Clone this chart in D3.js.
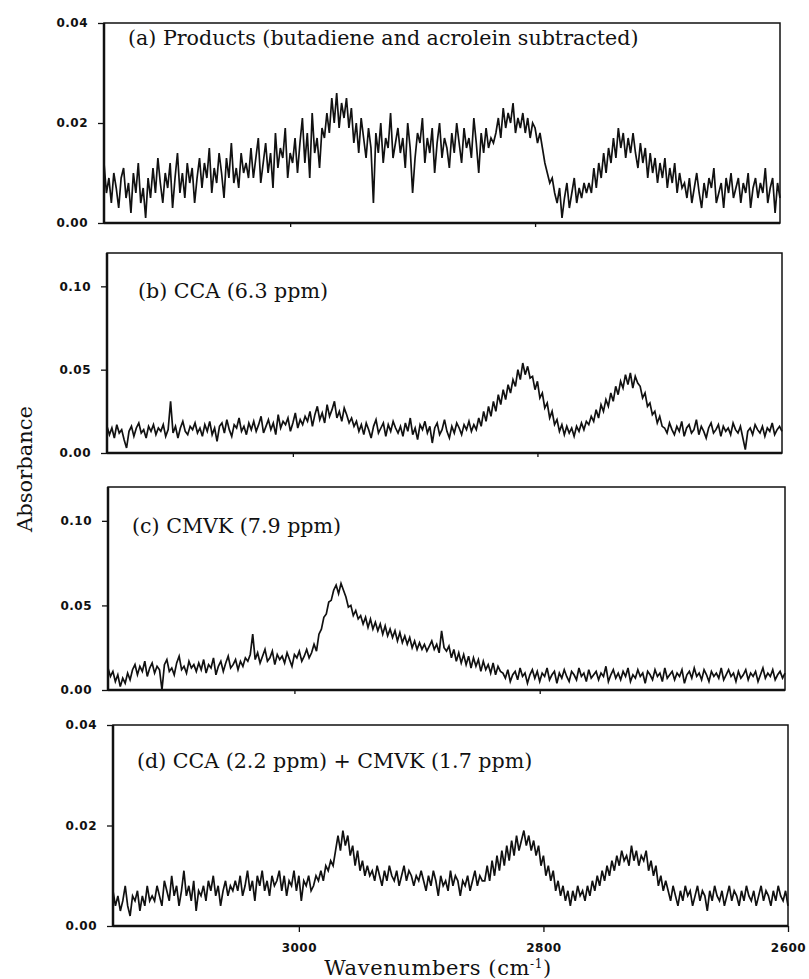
<!DOCTYPE html>
<html>
<head>
<meta charset="utf-8">
<script src="https://cdn.jsdelivr.net/npm/d3@7"></script>
<style>
  body { margin: 0; background: #fff; }
  svg { display: block; }
</style>
</head>
<body>
<svg id="spectra" width="809" height="979"></svg>
<script>
// wavenumber grid, cm-1 (2 cm-1 steps, high to low)
const wavenumbers = d3.range(3152, 2599, -2);

// absorbance values in units of 0.001
const productsSpec = [
  12, 6, 9, 4, 10, 7, 3, 9, 11, 5, 8, 2, 10, 6, 12, 4, 7, 1, 9, 5,
  11, 6, 13, 8, 4, 10, 7, 12, 3, 9, 14, 6, 10, 5, 12, 8, 11, 4, 9, 13,
  7, 12, 9, 15, 6, 11, 8, 14, 10, 5, 13, 9, 16, 8, 11, 7, 14, 10, 12, 9,
  15, 9, 13, 17, 8, 12, 16, 10, 14, 7, 18, 11, 15, 13, 19, 9, 14, 12, 17, 10,
  16, 21, 12, 18, 9, 22, 14, 17, 11, 19,
  17, 22, 18, 25, 20, 26, 19, 24, 21, 25,
  19, 23, 16, 20, 14, 21, 17, 13, 19, 15,
  4, 18, 14, 20, 12, 17, 15, 22, 13, 16,
  19, 14, 17, 11, 20, 15, 6, 13, 18, 16, 21, 12, 17, 14, 19, 10, 16, 20, 13, 17,
  15, 11, 18, 14, 20, 16, 12, 19, 15, 17, 13, 21, 16, 10, 18, 14, 19, 15, 17, 16,
  18, 21, 17, 23, 19, 22, 20, 24, 18, 21, 19,
  22, 18, 21, 17, 20, 19, 16, 18,
  15, 12, 10, 8, 9,
  6, 4, 7, 1, 5, 8, 3, 6, 9, 4, 7, 5, 8, 6,
  8, 6, 11, 7, 12, 9, 14, 10, 15, 12,
  17, 13, 19, 15, 18, 13, 17, 14, 18,
  14, 11, 16, 12, 15, 9, 14, 10, 13, 8, 12, 9, 13, 7, 11, 8, 12, 6, 10, 7,
  8, 5, 9, 4, 7, 10, 6, 3, 8, 5, 9, 7, 11, 4, 6, 8, 3, 9, 6, 10,
  5, 7, 9, 4, 8, 6, 10, 3, 7, 9, 5, 8, 6, 11, 4, 7, 9, 2, 8, 5
];

const ccaSpec = [
  16, 11, 15, 9, 17, 12, 14, 8, 3, 13, 16, 10, 15, 18, 12, 14, 9, 16, 13, 17,
  11, 15, 13, 17, 10, 14, 31, 12, 16, 9, 15, 19, 13, 11, 16, 14, 18, 12, 15, 10,
  17, 13, 19, 11, 15, 7, 16, 18, 12, 20, 14, 10, 17, 15, 21, 13, 16, 11, 18, 14,
  19, 13, 17, 22, 12, 16, 20, 14, 18, 11, 23, 15, 19, 17, 21, 13, 18, 24, 15, 20,
  17, 22, 19, 25, 16, 23, 28, 20, 24, 18, 29, 22, 26, 31, 21, 25, 19, 27, 23, 18,
  21, 16, 19, 13, 17, 11, 18, 14, 9, 16, 20, 12, 15, 18, 10, 17, 13, 19, 15, 12,
  16, 10, 18, 13, 21, 11, 15, 8, 17, 14, 19, 12, 16, 6, 15, 18, 11, 14, 20, 13,
  9, 16, 12, 18, 15, 11, 17, 14, 19, 13,
  17, 14, 21, 16, 25, 19, 28, 22, 31, 25, 35, 29, 38, 32, 41, 36, 44, 40,
  50, 44, 54, 47, 52, 45,
  46, 38, 43, 33, 36, 27, 30, 21, 25, 17, 20,
  13, 17, 11, 16, 12, 15, 10, 16, 13, 18, 14, 19,
  17, 22, 19, 26, 21, 29, 25, 32, 28, 36, 31, 40, 35, 43, 39,
  47, 41, 48, 39, 46, 42,
  40, 33, 36, 28, 30, 23, 25, 18, 22, 16,
  15, 12, 18, 14, 11, 16, 13, 19, 10, 15, 17, 12, 14, 20, 11, 16, 13, 9, 15, 18,
  12, 14, 17, 10, 16, 13, 15, 11, 18, 14, 12, 16, 9, 2, 13, 15, 11, 17, 14, 12,
  16, 10, 15, 13, 18, 11, 14, 16, 13
];

const cmvkSpec = [
  13, 8, 11, 5, 9, 2, 7, 4, 10, 6,
  12, 15, 9, 14, 11, 17, 8, 13, 16, 10, 14, 12, 0, 15, 18, 11, 13, 9, 16, 20, 12, 14, 10, 17, 13, 15, 11,
  16, 12, 18, 10, 15, 13, 19, 9, 14, 17, 11, 16, 20, 13, 15, 18, 12, 17, 14, 19,
  17, 21, 33, 18, 22, 16, 20, 24, 17, 19, 23, 15, 21, 18,
  20, 16, 22, 18, 14, 21, 19, 23, 17, 20, 24, 19,
  22, 27, 23, 33, 36, 43, 45, 52, 53,
  59, 62, 57, 63, 59,
  55, 49, 50, 44, 47, 42,
  44, 39, 43, 37, 42, 36, 40, 35, 39, 33, 38, 32, 36, 31, 35, 29, 34, 28, 32, 27, 31, 25, 29, 24,
  28, 24, 27, 23, 26, 29, 24, 27, 22, 35, 25, 23,
  26, 19, 24, 17, 22, 16, 21, 15, 20, 13, 19, 14, 18, 11, 17, 12, 15, 10, 16, 9, 14, 11,
  10, 7, 12, 5, 9, 11, 6, 13, 8, 10, 4, 9, 12, 7, 11, 5, 10, 8, 13, 6,
  9, 11, 4, 10, 7, 12, 8, 5, 11, 9, 6, 13, 8, 10, 5, 12, 7, 9, 11, 6,
  10, 8, 14, 5, 9, 12, 7, 10, 6, 11, 8, 13, 5, 9, 7, 12, 8, 10, 4, 11,
  9, 6, 12, 8, 10, 5, 13, 7, 9, 11, 6, 10, 8, 12, 4, 9, 11, 7, 13, 8,
  10, 6, 12, 9, 5, 11, 8, 10, 7, 13, 6, 9, 12, 8, 10, 5, 11, 7, 9, 12,
  6, 10, 8, 11, 5, 9, 13, 7, 10, 8, 12, 6, 9, 11, 7, 10
];

const mixSpec = [
  7, 4, 6, 3, 5, 8, 4, 2, 6, 5, 7, 3, 6, 4, 8, 5, 6,
  5, 8, 6, 4, 9, 7, 5, 10, 6, 8, 4, 7, 11, 6, 8, 5, 9, 3, 7, 6,
  8, 5, 9, 7, 10, 6, 8, 4, 7, 9, 6, 8, 7,
  9, 7, 10, 6, 8, 11, 7, 9, 5, 10, 8, 11, 7, 9, 6, 10, 8, 9, 11, 7,
  10, 6, 9, 8, 11, 7, 10, 5, 9, 8, 10, 7,
  8, 10, 9, 11, 9, 12, 11, 13, 12,
  15, 18, 15, 19, 16, 18,
  14, 16, 12, 15, 11, 13, 10,
  12, 10, 11, 9, 12, 10, 8, 11, 9, 12, 10, 9, 11, 8, 10, 12, 9, 11, 10, 8, 10, 9, 11,
  9, 7, 10, 8, 11, 9, 6, 10, 8, 9, 7, 11, 8, 10, 9, 6, 9, 8, 10, 7, 9, 11, 8, 10, 9,
  9, 12, 9, 13, 10, 14, 11, 15, 12, 16, 13, 17, 14, 18, 15, 17,
  19, 16, 18, 15,
  17, 14, 16, 12, 14, 10, 12, 9, 11, 7, 9,
  6, 8, 5, 7, 4, 7, 5, 8, 6, 7, 5, 8, 6, 9,
  7, 10, 8, 11, 9, 12, 10, 13, 11, 14,
  12, 15, 13, 14, 12, 16, 13, 15, 12, 14, 13, 15,
  11, 13, 10, 12, 8, 10, 7, 9,
  7, 5, 8, 6, 4, 7, 5, 8, 6, 7, 4, 6, 8, 5, 7, 6, 3, 7, 5, 8,
  6, 5, 7, 4, 6, 8, 5, 7, 6, 4, 7, 5, 8, 6, 5, 7, 4, 6, 8, 5,
  7, 6, 4, 7, 5, 8, 6, 5, 7, 4
];

const panelLabels = [
  "(a) Products (butadiene and acrolein subtracted)",
  "(b) CCA (6.3 ppm)",
  "(c) CMVK (7.9 ppm)",
  "(d) CCA (2.2 ppm) + CMVK (1.7 ppm)"
];
const yMaxes = [40, 120, 120, 40];
const yTickSets = [[0, 20, 40], [0, 50, 100], [0, 50, 100], [0, 20, 40]];
const xTicks = [3000, 2800, 2600];
const xDomain = [3152, 2600];

(() => {
  const svg = d3.select("#spectra");
  const series = [productsSpec, ccaSpec, cmvkSpec, mixSpec];

  // panel boxes (the scan is slightly skewed, so each box sits a bit differently)
  const boxes = [
    { left: 104, right: 780, top: 23, bottom: 223, tx: 24, ty: 22 },
    { left: 107, right: 782, top: 253, bottom: 453, tx: 31, ty: 45 },
    { left: 108, right: 785, top: 487, bottom: 690, tx: 24, ty: 46 },
    { left: 113, right: 788, top: 725, bottom: 926, tx: 24, ty: 43 }
  ];

  const tickText = sel => sel
    .attr("fill", "#111")
    .style("font-family", "DejaVu Sans, sans-serif")
    .style("font-size", "12px")
    .style("font-weight", "bold")
    .style("letter-spacing", "0.5px");

  boxes.forEach((b, i) => {
    const w = b.right - b.left;
    const h = b.bottom - b.top;
    const g = svg.append("g").attr("transform", `translate(${b.left},${b.top})`);

    const x = d3.scaleLinear().domain(xDomain).range([0, w]);
    const y = d3.scaleLinear().domain([0, yMaxes[i]]).range([h, 0]);

    const line = d3.line()
      .defined((d, j) => j < wavenumbers.length)
      .x((d, j) => x(wavenumbers[j]))
      .y(d => y(d));

    g.append("path")
      .datum(series[i])
      .attr("fill", "none")
      .attr("stroke", "#111")
      .attr("stroke-width", 1.7)
      .attr("stroke-linejoin", "miter")
      .attr("d", line);

    g.append("rect")
      .attr("width", w)
      .attr("height", h)
      .attr("fill", "none")
      .attr("stroke", "#111")
      .attr("stroke-width", 1.5);

    // left axis
    const yAxis = g.append("g")
      .call(d3.axisLeft(y)
        .tickValues(yTickSets[i])
        .tickSize(6)
        .tickPadding(10)
        .tickFormat(v => (v / 1000).toFixed(2)));
    yAxis.select(".domain").attr("stroke", "#111").attr("stroke-width", 2.5)
      .attr("d", `M0,0V${h}`);
    yAxis.selectAll(".tick line").attr("stroke", "#111").attr("stroke-width", 1.3);
    yAxis.selectAll("text").call(tickText);

    // bottom axis
    const last = i === boxes.length - 1;
    const xAxis = g.append("g")
      .attr("transform", `translate(0,${h})`)
      .call(d3.axisBottom(x)
        .tickValues(last ? xTicks : xTicks.slice(0, 2))
        .tickSize(last ? 6 : 4)
        .tickPadding(11)
        .tickFormat(last ? d3.format("d") : ""));
    xAxis.select(".domain").attr("stroke", "#111").attr("stroke-width", 2.5)
      .attr("d", `M0,0H${w}`);
    xAxis.selectAll(".tick line").attr("stroke", "#111").attr("stroke-width", 1.3);
    xAxis.selectAll("text").call(tickText);

    g.append("text")
      .attr("x", b.tx)
      .attr("y", b.ty)
      .attr("fill", "#111")
      .style("font-family", "DejaVu Serif, serif")
      .style("font-size", "20.6px")
      .text(panelLabels[i]);
  });

  svg.append("text")
    .attr("transform", "translate(32,469) rotate(-90)")
    .attr("text-anchor", "middle")
    .attr("fill", "#111")
    .style("font-family", "DejaVu Serif, serif")
    .style("font-size", "21px")
    .text("Absorbance");

  const xl = svg.append("text")
    .attr("x", 438)
    .attr("y", 975)
    .attr("text-anchor", "middle")
    .attr("fill", "#111")
    .style("font-family", "DejaVu Serif, serif")
    .style("font-size", "21px")
    .style("letter-spacing", "0.6px");
  xl.append("tspan").text("Wavenumbers (cm");
  xl.append("tspan").attr("dy", -7).style("font-size", "12px").text("-1");
  xl.append("tspan").attr("dy", 7).text(")");
})();
</script>
</body>
</html>
